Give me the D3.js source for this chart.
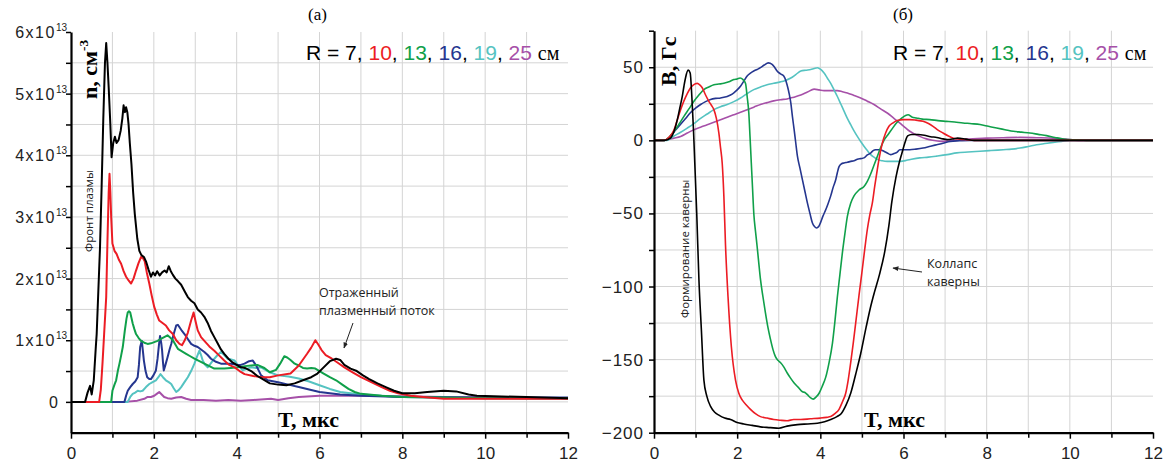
<!DOCTYPE html>
<html>
<head>
<meta charset="utf-8">
<script src="https://cdn.jsdelivr.net/npm/d3@7"></script>
<style>
  body { margin: 0; background: #fff; }
  svg { display: block; }
  .tick text { font-family: "Liberation Sans", Arial, sans-serif; }
</style>
</head>
<body>
<script>
// ---- data: (T, мкс ; value) ----
var seriesR = ["7", "10", "13", "16", "19", "25"];
var colors = ["#000000", "#ec1c24", "#10a04a", "#25368f", "#55c3c1", "#a650a8"];

// density n, units of 1e13 cm^-3
var n7 = [[0,0],[0.34,0],[0.4,0.15],[0.46,0.26],[0.5,0.12],[0.55,0.35],[0.6,0.9],[0.62,1.1],[0.66,1.8],[0.7,2.5],[0.74,3.5],[0.78,4.6],[0.82,5.5],[0.85,5.82],[0.88,5.5],[0.91,5.1],[0.95,4.5],[0.98,3.97],[1.02,4.2],[1.06,4.3],[1.1,4.2],[1.15,4.25],[1.2,4.4],[1.24,4.6],[1.27,4.81],[1.3,4.7],[1.33,4.78],[1.36,4.7],[1.39,4.5],[1.42,4.2],[1.46,3.85],[1.5,3.4],[1.54,3.05],[1.6,2.65],[1.65,2.45],[1.7,2.38],[1.76,2.35],[1.81,2.28],[1.87,2.15],[1.93,2.03],[1.98,2.1],[2.03,2.05],[2.08,2.12],[2.14,2.05],[2.2,2.1],[2.26,2.13],[2.31,2.1],[2.36,2.2],[2.41,2.12],[2.46,2.06],[2.52,2.0],[2.58,1.96],[2.66,1.9],[2.74,1.8],[2.82,1.7],[2.9,1.64],[2.98,1.6],[3.06,1.5],[3.14,1.45],[3.22,1.38],[3.3,1.28],[3.38,1.15],[3.46,1.05],[3.54,0.95],[3.62,0.85],[3.7,0.78],[3.8,0.7],[3.9,0.64],[4.0,0.6],[4.1,0.56],[4.2,0.55],[4.35,0.5],[4.5,0.42],[4.65,0.36],[4.8,0.3],[5.0,0.28],[5.2,0.27],[5.4,0.3],[5.6,0.35],[5.8,0.4],[5.95,0.46],[6.1,0.56],[6.25,0.66],[6.4,0.7],[6.5,0.68],[6.6,0.6],[6.75,0.54],[6.9,0.5],[7.05,0.43],[7.2,0.37],[7.4,0.3],[7.6,0.24],[7.8,0.18],[8.0,0.14],[8.3,0.14],[8.6,0.16],[9.0,0.18],[9.3,0.17],[9.6,0.12],[9.8,0.1],[10.2,0.09],[11,0.08],[12,0.06]];
var n10 = [[0,0],[0.68,0],[0.72,0.2],[0.76,0.62],[0.8,1.1],[0.85,1.7],[0.88,2.6],[0.91,3.4],[0.93,3.7],[0.95,3.4],[0.97,3.0],[1.0,2.57],[1.05,2.45],[1.1,2.4],[1.16,2.3],[1.21,2.24],[1.27,2.12],[1.33,2.03],[1.39,1.97],[1.45,1.92],[1.51,2.0],[1.57,2.13],[1.63,2.25],[1.69,2.35],[1.74,2.33],[1.78,2.28],[1.83,2.1],[1.89,1.92],[1.95,1.72],[2.01,1.54],[2.07,1.42],[2.13,1.32],[2.21,1.28],[2.29,1.24],[2.37,1.16],[2.46,1.1],[2.54,1.0],[2.62,0.94],[2.68,0.92],[2.74,0.99],[2.82,1.12],[2.9,1.32],[2.96,1.45],[3.01,1.3],[3.06,1.16],[3.14,1.05],[3.22,0.99],[3.34,0.9],[3.46,0.83],[3.58,0.75],[3.7,0.67],[3.82,0.6],[3.95,0.56],[4.07,0.5],[4.19,0.45],[4.4,0.42],[4.6,0.4],[4.8,0.4],[5.0,0.43],[5.3,0.46],[5.5,0.59],[5.7,0.78],[5.8,0.88],[5.9,1.0],[5.97,0.93],[6.05,0.84],[6.15,0.76],[6.3,0.7],[6.45,0.63],[6.6,0.56],[6.8,0.48],[7.0,0.4],[7.25,0.32],[7.5,0.24],[7.7,0.18],[7.9,0.14],[8.2,0.1],[8.5,0.08],[9,0.05],[10,0.05],[11,0.05],[12,0.05]];
var n13 = [[0,0],[0.97,0],[1.0,0.18],[1.05,0.28],[1.09,0.35],[1.13,0.5],[1.17,0.62],[1.21,0.75],[1.25,0.89],[1.28,1.05],[1.3,1.16],[1.34,1.35],[1.37,1.45],[1.4,1.47],[1.43,1.45],[1.46,1.36],[1.49,1.27],[1.53,1.18],[1.57,1.1],[1.63,1.04],[1.69,0.99],[1.77,0.96],[1.85,0.94],[1.93,0.95],[2.01,0.97],[2.09,0.99],[2.17,1.02],[2.25,1.05],[2.33,1.08],[2.4,1.04],[2.46,1.0],[2.52,0.93],[2.58,0.86],[2.68,0.82],[2.78,0.78],[2.88,0.74],[2.98,0.7],[3.1,0.66],[3.22,0.62],[3.34,0.58],[3.46,0.54],[3.58,0.54],[3.7,0.54],[3.86,0.55],[4.03,0.56],[4.2,0.58],[4.35,0.59],[4.5,0.6],[4.67,0.55],[4.8,0.48],[4.95,0.52],[5.05,0.62],[5.15,0.74],[5.22,0.72],[5.3,0.68],[5.4,0.62],[5.5,0.59],[5.6,0.55],[5.7,0.54],[5.8,0.55],[5.9,0.54],[6.0,0.5],[6.1,0.46],[6.25,0.4],[6.4,0.35],[6.55,0.28],[6.7,0.21],[6.85,0.16],[7.0,0.13],[7.5,0.1],[8,0.08],[9,0.07],[10,0.06],[12,0.06]];
var n16 = [[0,0],[1.29,0],[1.33,0.1],[1.37,0.18],[1.43,0.24],[1.49,0.29],[1.55,0.33],[1.61,0.4],[1.64,0.6],[1.67,0.89],[1.71,0.99],[1.74,0.8],[1.76,0.67],[1.8,0.5],[1.84,0.4],[1.89,0.37],[1.93,0.37],[1.99,0.43],[2.05,0.51],[2.09,0.7],[2.12,0.9],[2.15,1.07],[2.18,0.95],[2.2,0.83],[2.22,0.65],[2.24,0.51],[2.28,0.6],[2.33,0.72],[2.38,0.85],[2.42,0.94],[2.48,1.1],[2.54,1.24],[2.58,1.25],[2.62,1.21],[2.68,1.15],[2.74,1.1],[2.82,1.02],[2.9,0.94],[2.98,0.91],[3.06,0.89],[3.14,0.85],[3.22,0.81],[3.3,0.76],[3.38,0.7],[3.5,0.65],[3.62,0.62],[3.74,0.62],[3.86,0.62],[4.0,0.6],[4.1,0.6],[4.19,0.62],[4.3,0.66],[4.39,0.67],[4.48,0.58],[4.59,0.43],[4.75,0.35],[5.0,0.32],[5.25,0.28],[5.5,0.24],[5.75,0.2],[6,0.16],[6.5,0.12],[7,0.1],[8,0.08],[10,0.07],[12,0.07]];
var n19 = [[0,0],[1.37,0],[1.43,0.08],[1.49,0.13],[1.55,0.15],[1.61,0.18],[1.67,0.17],[1.73,0.18],[1.81,0.24],[1.89,0.29],[1.97,0.32],[2.05,0.35],[2.11,0.4],[2.16,0.45],[2.22,0.4],[2.29,0.35],[2.36,0.32],[2.42,0.29],[2.48,0.22],[2.54,0.16],[2.6,0.19],[2.66,0.24],[2.74,0.32],[2.82,0.4],[2.9,0.5],[2.98,0.62],[3.04,0.73],[3.1,0.83],[3.14,0.76],[3.18,0.67],[3.24,0.6],[3.3,0.56],[3.38,0.63],[3.46,0.7],[3.54,0.76],[3.62,0.81],[3.7,0.76],[3.78,0.7],[3.86,0.69],[3.95,0.67],[4.05,0.58],[4.15,0.51],[4.25,0.54],[4.35,0.56],[4.47,0.55],[4.59,0.56],[4.8,0.48],[5.0,0.43],[5.25,0.41],[5.5,0.38],[5.75,0.33],[6,0.27],[6.25,0.21],[6.5,0.16],[7,0.12],[7.5,0.1],[8,0.08],[10,0.06],[12,0.05]];
var n25 = [[0,0],[1.3,0],[1.6,0.02],[1.77,0.05],[1.85,0.08],[1.93,0.08],[2.01,0.1],[2.07,0.13],[2.13,0.16],[2.19,0.12],[2.25,0.08],[2.33,0.06],[2.42,0.05],[2.54,0.07],[2.66,0.08],[2.78,0.05],[2.9,0.03],[3.2,0.03],[3.5,0.02],[3.8,0.03],[4.1,0.02],[4.4,0.03],[4.83,0.05],[5.0,0.03],[5.25,0.06],[5.5,0.08],[6,0.1],[6.5,0.1],[7,0.1],[8,0.09],[9,0.08],[10,0.07],[11,0.06],[12,0.05]];

// magnetic field B, Гс
var b7 = [[0,0],[0.25,0],[0.4,1.6],[0.48,6],[0.56,14],[0.62,22],[0.68,30],[0.72,37],[0.76,43],[0.82,48],[0.87,46],[0.91,30],[0.95,7],[0.98,-15],[1.03,-52],[1.08,-95],[1.14,-130],[1.2,-164],[1.27,-175],[1.36,-182],[1.46,-186],[1.56,-188],[1.7,-190],[1.84,-191],[2.0,-193],[2.16,-194],[2.36,-195],[2.56,-196],[2.8,-196.5],[3.0,-197],[3.2,-195.5],[3.45,-194.5],[3.7,-194],[3.93,-193.5],[4.1,-192.5],[4.25,-191],[4.4,-189],[4.5,-187],[4.62,-181],[4.73,-173],[4.85,-160],[4.97,-146],[5.1,-128],[5.2,-115],[5.3,-104],[5.42,-92],[5.55,-76],[5.65,-58],[5.72,-42],[5.82,-25],[5.9,-15],[5.96,-9],[6.03,-2],[6.1,3],[6.2,4],[6.35,4],[6.5,3.5],[6.65,2.5],[6.8,2],[6.95,1],[7.05,0.5],[7.2,1],[7.3,1.5],[7.5,0.8],[7.7,0],[12,0]];
var b10 = [[0,0],[0.25,0],[0.36,2],[0.48,7],[0.56,14],[0.64,21],[0.72,27],[0.8,32],[0.88,36],[0.95,38],[1.04,39],[1.1,38],[1.16,36],[1.24,31],[1.32,26.7],[1.38,24],[1.44,21],[1.5,15],[1.56,5],[1.6,-5],[1.64,-15.5],[1.68,-38],[1.72,-72],[1.78,-107],[1.86,-141],[1.96,-164],[2.04,-173],[2.12,-177.6],[2.22,-181],[2.32,-184],[2.44,-187],[2.56,-189],[2.72,-190],[2.88,-191],[3.04,-191.5],[3.2,-191.8],[3.36,-191],[3.53,-191],[3.76,-190.5],[4.0,-190],[4.15,-189.5],[4.25,-189],[4.35,-187],[4.45,-184],[4.53,-179],[4.61,-173],[4.67,-164],[4.73,-152],[4.79,-139],[4.85,-125],[4.93,-106],[5.01,-88],[5.07,-74],[5.13,-61],[5.19,-51],[5.25,-43],[5.31,-31],[5.37,-20],[5.43,-10],[5.49,-2],[5.57,5],[5.65,9.6],[5.75,12],[5.85,13.5],[6.0,14.2],[6.15,14.2],[6.3,13.8],[6.47,13],[6.6,11.5],[6.71,9.6],[6.83,7],[6.95,5],[7.08,3],[7.2,1.5],[7.35,0.8],[7.52,0.5],[7.7,0],[12,0]];
var b13 = [[0,0],[0.25,0],[0.36,2],[0.48,6],[0.6,11],[0.72,16.4],[0.84,21.5],[0.96,26.7],[1.08,31],[1.2,34.7],[1.32,36.5],[1.44,38],[1.56,38.5],[1.68,39],[1.8,40],[1.92,41.6],[2.0,42],[2.07,42.6],[2.14,41.5],[2.2,39],[2.24,30],[2.28,18.7],[2.31,2],[2.34,-15.5],[2.37,-33],[2.4,-50],[2.44,-62],[2.48,-72.6],[2.52,-84],[2.56,-95],[2.62,-107],[2.68,-118],[2.74,-128],[2.8,-136],[2.86,-143],[2.92,-148],[2.98,-150.5],[3.04,-152],[3.12,-155],[3.2,-159],[3.28,-162.5],[3.37,-166],[3.47,-169],[3.57,-172],[3.63,-172.5],[3.69,-174],[3.76,-176],[3.83,-177],[3.9,-175.5],[3.97,-173],[4.05,-168],[4.13,-162],[4.21,-152],[4.29,-139],[4.35,-124],[4.41,-107],[4.47,-92],[4.53,-77],[4.59,-64],[4.65,-52],[4.73,-43],[4.81,-38],[4.93,-34],[5.05,-31.5],[5.13,-28],[5.21,-23],[5.29,-17],[5.37,-11],[5.45,-5],[5.53,0],[5.63,4],[5.73,8],[5.83,11.9],[5.95,15],[6.05,17],[6.11,17.5],[6.2,16],[6.31,15.3],[6.45,14.5],[6.63,14.2],[6.83,13.5],[7.03,13],[7.23,12.5],[7.43,11.9],[7.64,11.4],[7.84,10.8],[8.04,9.6],[8.24,8.4],[8.44,7.3],[8.64,6.2],[8.84,5.6],[9.04,5],[9.24,4.1],[9.44,3.2],[9.64,2],[9.84,0.9],[10.16,0.3],[10.4,0],[12,0]];
var b16 = [[0,0],[0.25,0],[0.4,3],[0.52,7],[0.64,11],[0.76,15],[0.88,19],[1.0,22],[1.12,24.5],[1.24,26.5],[1.36,28],[1.48,28.7],[1.6,29],[1.68,29.5],[1.76,30],[1.84,31],[1.92,32.5],[2.0,34.5],[2.08,37],[2.16,40.5],[2.24,44],[2.32,46],[2.4,47.4],[2.48,48.5],[2.56,49.7],[2.65,51.5],[2.75,53],[2.84,52],[2.9,50],[2.96,47.4],[3.04,45.5],[3.12,44],[3.17,41],[3.2,38],[3.25,32],[3.29,25.6],[3.33,16],[3.37,7.3],[3.41,-2],[3.45,-11],[3.51,-19],[3.57,-27],[3.63,-35],[3.69,-43],[3.75,-50],[3.81,-56.6],[3.86,-59],[3.91,-60],[3.96,-59],[4.0,-56.6],[4.06,-52],[4.13,-47.5],[4.19,-43],[4.25,-38],[4.31,-32],[4.37,-27],[4.41,-22],[4.45,-18],[4.51,-16],[4.57,-15.5],[4.65,-15],[4.73,-14.4],[4.81,-14],[4.89,-13],[4.97,-12.5],[5.05,-12],[5.13,-10],[5.21,-8.7],[5.27,-7],[5.33,-6.4],[5.43,-6.4],[5.53,-7.5],[5.61,-8.7],[5.69,-9.8],[5.77,-9],[5.85,-8],[5.91,-6.4],[6.0,-6.4],[6.15,-6.4],[6.3,-6],[6.47,-5.3],[6.65,-4],[6.8,-3],[6.95,-2],[7.12,-0.7],[7.35,-0.3],[7.6,0],[12,0]];
var b19 = [[0,0],[0.3,0],[0.48,3],[0.64,5.5],[0.8,8.4],[0.96,11.5],[1.12,15],[1.28,18],[1.44,21],[1.6,23],[1.76,24.5],[1.92,26.5],[2.08,29],[2.24,32],[2.4,34.7],[2.56,36.5],[2.72,38],[2.88,39],[3.04,40],[3.16,41],[3.29,42.6],[3.41,45],[3.53,47.4],[3.65,48],[3.77,48.5],[3.85,49.2],[3.93,49.7],[4.01,48.5],[4.09,46],[4.17,42.5],[4.25,39],[4.33,34.5],[4.41,30],[4.49,25],[4.57,20],[4.65,15],[4.73,10.7],[4.81,6.5],[4.89,2.7],[4.97,-0.8],[5.05,-4],[5.13,-7],[5.21,-9.8],[5.29,-11.5],[5.37,-13],[5.49,-14],[5.61,-14.4],[5.77,-14.4],[5.93,-14.4],[6.1,-13.5],[6.39,-12],[6.6,-11.5],[6.8,-10.8],[7.05,-9.8],[7.28,-8.6],[7.55,-8],[7.84,-7.5],[8.1,-7],[8.4,-6.4],[8.6,-6],[8.8,-5.3],[9.0,-4.2],[9.2,-3],[9.4,-2.2],[9.6,-1.4],[9.8,-0.7],[10,0],[12,0]];
var b25 = [[0,0],[0.3,0.3],[0.48,1.5],[0.64,2.7],[0.8,5],[0.96,7.3],[1.12,9],[1.28,10.7],[1.44,12.3],[1.6,14],[1.76,15.8],[1.92,17.5],[2.08,19.2],[2.24,21],[2.4,22.7],[2.56,24.5],[2.72,25.8],[2.88,27],[3.04,27.8],[3.2,28.3],[3.36,29.5],[3.53,31],[3.69,33],[3.85,35],[3.97,34.5],[4.09,34],[4.25,34],[4.41,34],[4.53,33.3],[4.65,32.4],[4.81,30.7],[4.97,29],[5.13,26.8],[5.29,24.5],[5.45,21.5],[5.61,18.7],[5.77,15],[5.93,11.5],[6.05,8.5],[6.15,6.2],[6.27,4.3],[6.39,2.7],[6.55,1],[6.7,0],[6.9,-0.7],[7.05,-0.5],[7.25,0],[7.5,0.8],[8,1.5],[8.4,1.8],[8.8,2],[9.2,1.8],[9.6,1.5],[9.9,0.8],[10.2,0],[12,0]];

var nSeries = [n7, n10, n13, n16, n19, n25];
var bSeries = [b7, b10, b13, b16, b19, b25];
var tTicks = [0, 2, 4, 6, 8, 10, 12];
var nTicks = [0, 1, 2, 3, 4, 5, 6];
var bTicks = [-200, -150, -100, -50, 0, 50];

var width = 1171, height = 464;
var svg = d3.select("body").append("svg").attr("width", width).attr("height", height);

var sans = "'Liberation Sans', Arial, sans-serif";
var serif = "'Liberation Serif', 'Times New Roman', serif";
var note = "'Open Sans', 'Noto Sans', sans-serif";

function panel(opt) {
  var g = svg.append("g");
  var x = d3.scaleLinear().domain([0, 12]).range([opt.x0, opt.x1]);
  var y = d3.scaleLinear().domain(opt.yDomain).range([opt.yBot, opt.yTop]);

  // grid
  var grid = g.append("g").attr("stroke", "#d4d4d4").attr("stroke-width", 1);
  grid.selectAll("line.v").data(d3.range(1, 12)).enter().append("line")
    .attr("x1", x).attr("x2", x).attr("y1", opt.yTop).attr("y2", opt.yBot);
  grid.selectAll("line.h").data(opt.gridY).enter().append("line")
    .attr("x1", opt.x0).attr("x2", opt.x1).attr("y1", y).attr("y2", y);

  // curves
  var line = d3.line().x(function (d) { return x(d[0]); }).y(function (d) { return y(d[1]); })
    .curve(opt.curve);
  g.append("g").selectAll("path").data(opt.series.slice().reverse()).enter().append("path")
    .attr("d", line)
    .attr("fill", "none")
    .attr("stroke", function (d, i) { return colors[colors.length - 1 - i]; })
    .attr("stroke-width", opt.lw)
    .attr("stroke-linejoin", "round");

  // axes
  var xAxis = d3.axisBottom(x).tickValues(d3.range(0, 13)).tickSize(6).tickSizeOuter(0)
    .tickFormat(function (d) { return tTicks.indexOf(d) >= 0 ? d : ""; });
  var gx = g.append("g").attr("transform", "translate(0," + opt.yBot + ")").call(xAxis);
  gx.select(".domain").attr("stroke-width", 2.2);
  gx.selectAll(".tick line").attr("stroke-width", 1.5)
    .attr("y2", function (d) { return d % 2 === 0 ? 6 : 5; });
  gx.selectAll(".tick text").attr("font-size", 17).attr("dy", 0).attr("y", 26)
    .attr("font-family", sans).attr("fill", "#222");

  var yAxis = d3.axisLeft(y).tickValues(opt.minorY).tickSize(5).tickSizeOuter(0).tickFormat("");
  var gy = g.append("g").attr("transform", "translate(" + opt.x0 + ",0)").call(yAxis);
  gy.select(".domain").attr("stroke-width", 2.2);
  gy.selectAll(".tick line").attr("stroke-width", 1.5);

  return { g: g, x: x, y: y };
}

// ---------- panel (a) ----------
var A = panel({
  x0: 71, x1: 568, yTop: 32, yBot: 432.7, yDomain: [-0.5, 6],
  gridY: d3.range(0, 11.5).map(function (k) { return k * 0.5; }),
  minorY: d3.range(0, 13).map(function (k) { return k * 0.5; }),
  series: nSeries, lw: 2, curve: d3.curveLinear
});

A.g.append("g").selectAll("text").data(nTicks).enter().append("text")
  .attr("x", function (d) { return d === 0 ? 58 : 67; })
  .attr("y", function (d) { return A.y(d) + 6; })
  .attr("text-anchor", "end")
  .attr("font-family", sans).attr("font-size", 16).attr("fill", "#222")
  .each(function (d) {
    var t = d3.select(this);
    if (d === 0) { t.text("0"); return; }
    t.append("tspan").attr("letter-spacing", 1.5).text(d + "x10");
    t.append("tspan").attr("font-size", 10).attr("dy", -7).text("13");
  });

// ---------- panel (б) ----------
var B = panel({
  x0: 654, x1: 1153, yTop: 30.7, yBot: 432.7, yDomain: [-200, 75],
  gridY: d3.range(-175, 75, 25),
  minorY: d3.range(-200, 100, 25),
  series: bSeries, lw: 1.6, curve: d3.curveMonotoneX
});

B.g.append("g").selectAll("text").data(bTicks).enter().append("text")
  .attr("x", 644)
  .attr("y", function (d) { return B.y(d) + 6; })
  .attr("text-anchor", "end")
  .attr("font-family", sans).attr("font-size", 17).attr("fill", "#222")
  .attr("letter-spacing", 1)
  .text(function (d) { return d < 0 ? "\u2212" + Math.abs(d) : d; });

// ---------- titles, legends, labels ----------
function title(xp, txt) {
  svg.append("text").attr("x", xp).attr("y", 20).attr("font-family", serif)
    .attr("font-size", 17).text(txt);
}
title(308, "(a)");
title(893, "(б)");

function legend(xp) {
  var t = svg.append("text").attr("x", xp).attr("y", 60).attr("font-family", sans).attr("font-size", 21);
  t.append("tspan").attr("fill", "#000").text("R = ");
  seriesR.forEach(function (r, i) {
    t.append("tspan").attr("fill", colors[i]).text(r);
    t.append("tspan").attr("fill", "#000").text(i < seriesR.length - 1 ? ", " : " ");
  });
  t.append("tspan").attr("font-family", serif).attr("font-size", 20).attr("fill", "#000").text("см");
}
legend(306);
legend(893);

function vlabel(xp, yp, parts, size) {
  var t = svg.append("text").attr("transform", "translate(" + xp + "," + yp + ") rotate(-90)")
    .attr("font-family", serif).attr("font-weight", "bold").attr("font-size", size);
  parts.forEach(function (p) {
    var s = t.append("tspan").text(p.t);
    if (p.sup) s.attr("font-size", size * 0.6).attr("dy", -9);
  });
}
vlabel(97, 99, [{ t: "n, см" }, { t: "-3", sup: true }], 22);
vlabel(676, 86, [{ t: "B, Гс" }], 22);

function xlabel(xp) {
  svg.append("text").attr("x", xp).attr("y", 427).attr("font-family", serif)
    .attr("font-weight", "bold").attr("font-size", 22).text("T, мкс");
}
xlabel(278);
xlabel(864);

// notes
function rnote(xp, yp, txt) {
  svg.append("text").attr("transform", "translate(" + xp + "," + yp + ") rotate(-90)")
    .attr("font-family", note).attr("font-size", 11.5).attr("fill", "#222").text(txt);
}
rnote(93, 252, "Фронт плазмы");
rnote(689, 318, "Формирование каверны");

function hnote(xp, yp, lines) {
  var t = svg.append("text").attr("font-family", note).attr("font-size", 12.5).attr("fill", "#222");
  lines.forEach(function (l, i) {
    t.append("tspan").attr("x", xp).attr("y", yp + i * 18).text(l);
  });
}
hnote(319, 297, ["Отраженный", "плазменный поток"]);
hnote(927, 268, ["Коллапс", "каверны"]);

svg.append("defs").append("marker").attr("id", "ah").attr("viewBox", "0 0 10 10")
  .attr("refX", 9).attr("refY", 5).attr("markerWidth", 6).attr("markerHeight", 6)
  .attr("orient", "auto").append("path").attr("d", "M0,1 L10,5 L0,9 Z").attr("fill", "#222");

function arrow(x1, y1, x2, y2) {
  svg.append("line").attr("x1", x1).attr("y1", y1).attr("x2", x2).attr("y2", y2)
    .attr("stroke", "#222").attr("stroke-width", 1).attr("marker-end", "url(#ah)");
}
arrow(353, 323, 344, 348);
arrow(922, 272, 893, 268);
</script>
</body>
</html>
